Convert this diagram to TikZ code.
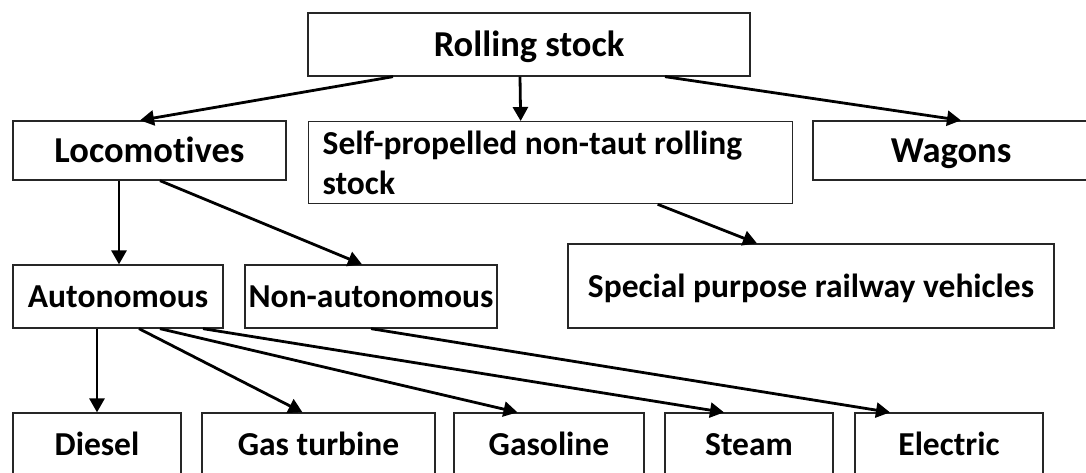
\documentclass[tikz,border=0pt]{standalone}
\usepackage{fontspec}
\setmainfont{Carlito}[Ligatures=NoCommon]
\usepackage{tikz}
\usetikzlibrary{arrows.meta}
\usetikzlibrary{positioning}

\begin{document}
\begin{tikzpicture}[x=1pt,y=-1pt]
	\useasboundingbox (0,0) rectangle (1086,472);
	\begin{scope}[every node/.style={rectangle, draw=black!85, line width=1.3pt, inner sep=0pt,
	              text height=22pt, text depth=0pt, font=\fontsize{33.5}{40}\selectfont\bfseries},
	              bigbox/.style={text height=23.5pt, font=\fontsize{36.5}{40}\selectfont\bfseries}]
		\node (rs) at (529,44.5) [bigbox, minimum width=442pt, minimum height=63pt] {Rolling stock};
		\node (loco) at (149.5,150.5) [bigbox, minimum width=273pt, minimum height=59pt] {Locomotives};
		\node (self) at (308,121) [anchor=north west, minimum width=484pt, minimum height=82pt,
		      text height={}, text depth={}, text width=456pt, align=flush left, inner xsep=14pt]
		      {Self-propelled non-taut rolling\\stock};
		\node (wagons) at (951,150.5) [bigbox, minimum width=276pt, minimum height=59pt] {Wagons};
		\node (special) at (811,286) [minimum width=486pt, minimum height=84pt] {Special purpose railway vehicles};
		\node (auto) at (118,296.5) [minimum width=210pt, minimum height=63pt] {Autonomous};
		\node (nonauto) at (371,296.5) [minimum width=252pt, minimum height=63pt] {Non-autonomous};
		\node (diesel) at (97,444) [minimum width=168pt, minimum height=62pt] {Diesel};
		\node (gasturb) at (318.5,444) [minimum width=233pt, minimum height=62pt] {Gas turbine};
		\node (gasoline) at (549,444) [minimum width=190pt, minimum height=62pt] {Gasoline};
		\node (steam) at (749,444) [minimum width=168pt, minimum height=62pt] {Steam};
		\node (electric) at (949,444) [minimum width=188pt, minimum height=62pt] {Electric};
	\end{scope}

	\begin{scope}[>={Triangle[length=14pt,width=15pt]},
	              every edge/.style={draw=black, line width=2.8pt, ->}]
		\path ([xshift=-136pt]rs.south) edge ([xshift=-9.5pt]loco.north);
		\path ([xshift=-9pt]rs.south) edge ([xshift=-30pt]self.north);
		\path ([xshift=136pt]rs.south) edge ([xshift=10pt]wagons.north);
		\path ([xshift=-30.5pt]loco.south) edge ([xshift=1pt]auto.north);
		\path ([xshift=10.5pt]loco.south) edge ([xshift=-9pt]nonauto.north);
		\path ([xshift=107pt]self.south) edge ([xshift=-54pt]special.north);
		\path ([xshift=-21pt]auto.south) edge (diesel.north);
		\path ([xshift=21pt]auto.south) edge ([xshift=-16pt]gasturb.north);
		\path ([xshift=42pt]auto.south) edge ([xshift=-31.5pt]gasoline.north);
		\path ([xshift=85pt]auto.south) edge ([xshift=-25pt]steam.north);
		\path (nonauto.south) edge ([xshift=-59pt]electric.north);
	\end{scope}
\end{tikzpicture}
\end{document}
